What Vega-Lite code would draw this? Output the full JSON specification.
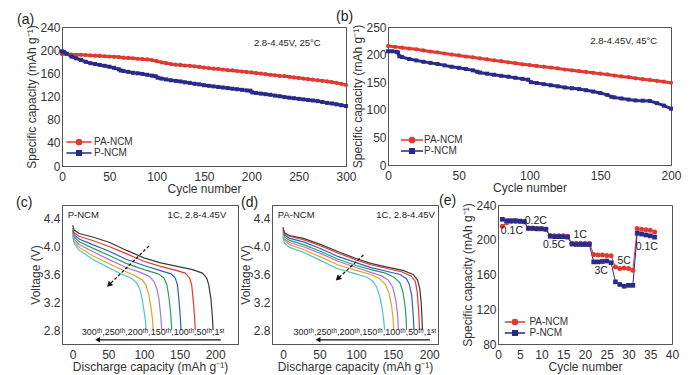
{
  "$schema": "https://vega.github.io/schema/vega-lite/v6.json",
  "padding": {"left": 15, "top": 9, "right": 0, "bottom": 5},
  "spacing": -2,
  "resolve": {"scale": {"fill": "independent", "stroke": "independent", "shape": "independent", "color": "independent"}},
  "config": {
    "font": "Liberation Sans",
    "view": {"stroke": "#555", "strokeWidth": 1},
    "axis": {"domainColor": "#555", "tickColor": "#555", "labelColor": "#333", "titleColor": "#333", "labelFontSize": 12, "titleFontSize": 12, "titleFontWeight": "normal", "grid": false, "tickSize": 0, "labelOverlap": false, "labelFlush": false, "titlePadding": 1, "labelFont": "Liberation Sans", "titleFont": "Liberation Sans"},
    "axisX": {"labelPadding": 5},
    "axisY": {"labelPadding": 2},
    "title": {"fontSize": 14, "fontWeight": "normal", "anchor": "start", "frame": "group", "offset": 0, "baseline": "bottom", "color": "#222", "font": "Liberation Sans"},
    "text": {"font": "Liberation Sans", "color": "#222"}
  },
  "vconcat": [
    {
      "resolve": {"scale": {"fill": "independent", "stroke": "independent", "shape": "independent", "color": "independent"}},
      "hconcat": [
        {
          "width": 284, "height": 139,
          "title": {"text": "(a)", "dx": -45, "dy": 10},
          "data": {"values": [
            {"n":0,"y":193,"s":"PA-NCM"},{"n":5,"y":193,"s":"PA-NCM"},{"n":10,"y":192.5,"s":"PA-NCM"},{"n":15,"y":192,"s":"PA-NCM"},{"n":20,"y":192,"s":"PA-NCM"},{"n":25,"y":191.5,"s":"PA-NCM"},{"n":30,"y":191,"s":"PA-NCM"},{"n":35,"y":190.5,"s":"PA-NCM"},{"n":40,"y":190,"s":"PA-NCM"},{"n":45,"y":189.5,"s":"PA-NCM"},{"n":50,"y":189,"s":"PA-NCM"},{"n":55,"y":188.5,"s":"PA-NCM"},{"n":60,"y":188,"s":"PA-NCM"},{"n":65,"y":187,"s":"PA-NCM"},{"n":70,"y":186.5,"s":"PA-NCM"},{"n":75,"y":186,"s":"PA-NCM"},{"n":80,"y":185,"s":"PA-NCM"},{"n":85,"y":184.5,"s":"PA-NCM"},{"n":90,"y":184,"s":"PA-NCM"},{"n":95,"y":183,"s":"PA-NCM"},{"n":100,"y":181,"s":"PA-NCM"},{"n":105,"y":179,"s":"PA-NCM"},{"n":110,"y":177.5,"s":"PA-NCM"},{"n":115,"y":176,"s":"PA-NCM"},{"n":120,"y":175,"s":"PA-NCM"},{"n":125,"y":174.5,"s":"PA-NCM"},{"n":130,"y":173.5,"s":"PA-NCM"},{"n":135,"y":173,"s":"PA-NCM"},{"n":140,"y":172,"s":"PA-NCM"},{"n":145,"y":171,"s":"PA-NCM"},{"n":150,"y":170,"s":"PA-NCM"},{"n":155,"y":169,"s":"PA-NCM"},{"n":160,"y":168,"s":"PA-NCM"},{"n":165,"y":167.5,"s":"PA-NCM"},{"n":170,"y":166.5,"s":"PA-NCM"},{"n":175,"y":165.5,"s":"PA-NCM"},{"n":180,"y":165,"s":"PA-NCM"},{"n":185,"y":164,"s":"PA-NCM"},{"n":190,"y":163,"s":"PA-NCM"},{"n":195,"y":162.5,"s":"PA-NCM"},{"n":200,"y":161.5,"s":"PA-NCM"},{"n":205,"y":160.5,"s":"PA-NCM"},{"n":210,"y":159.5,"s":"PA-NCM"},{"n":215,"y":158.5,"s":"PA-NCM"},{"n":220,"y":157.5,"s":"PA-NCM"},{"n":225,"y":156.5,"s":"PA-NCM"},{"n":230,"y":155.5,"s":"PA-NCM"},{"n":235,"y":155,"s":"PA-NCM"},{"n":240,"y":154,"s":"PA-NCM"},{"n":245,"y":153,"s":"PA-NCM"},{"n":250,"y":152,"s":"PA-NCM"},{"n":255,"y":151,"s":"PA-NCM"},{"n":260,"y":150,"s":"PA-NCM"},{"n":265,"y":149,"s":"PA-NCM"},{"n":270,"y":148,"s":"PA-NCM"},{"n":275,"y":147,"s":"PA-NCM"},{"n":280,"y":146,"s":"PA-NCM"},{"n":285,"y":145,"s":"PA-NCM"},{"n":290,"y":143.5,"s":"PA-NCM"},{"n":295,"y":142,"s":"PA-NCM"},{"n":300,"y":140,"s":"PA-NCM"},
            {"n":0,"y":198,"s":"P-NCM"},{"n":2,"y":197,"s":"P-NCM"},{"n":5,"y":194,"s":"P-NCM"},{"n":10,"y":189,"s":"P-NCM"},{"n":15,"y":186,"s":"P-NCM"},{"n":20,"y":183,"s":"P-NCM"},{"n":25,"y":180,"s":"P-NCM"},{"n":30,"y":177.5,"s":"P-NCM"},{"n":35,"y":176,"s":"P-NCM"},{"n":40,"y":174.5,"s":"P-NCM"},{"n":45,"y":173,"s":"P-NCM"},{"n":50,"y":171.5,"s":"P-NCM"},{"n":55,"y":169.5,"s":"P-NCM"},{"n":60,"y":167,"s":"P-NCM"},{"n":62,"y":165,"s":"P-NCM"},{"n":65,"y":164,"s":"P-NCM"},{"n":70,"y":162.5,"s":"P-NCM"},{"n":75,"y":161,"s":"P-NCM"},{"n":80,"y":160,"s":"P-NCM"},{"n":85,"y":159,"s":"P-NCM"},{"n":90,"y":157.5,"s":"P-NCM"},{"n":95,"y":156,"s":"P-NCM"},{"n":99,"y":155,"s":"P-NCM"},{"n":101,"y":152.5,"s":"P-NCM"},{"n":105,"y":151,"s":"P-NCM"},{"n":110,"y":149.5,"s":"P-NCM"},{"n":115,"y":148,"s":"P-NCM"},{"n":120,"y":147,"s":"P-NCM"},{"n":125,"y":146,"s":"P-NCM"},{"n":130,"y":144.5,"s":"P-NCM"},{"n":135,"y":143.5,"s":"P-NCM"},{"n":140,"y":142,"s":"P-NCM"},{"n":145,"y":141,"s":"P-NCM"},{"n":150,"y":139.5,"s":"P-NCM"},{"n":155,"y":138.5,"s":"P-NCM"},{"n":160,"y":137.5,"s":"P-NCM"},{"n":165,"y":136.5,"s":"P-NCM"},{"n":170,"y":135.5,"s":"P-NCM"},{"n":175,"y":134.5,"s":"P-NCM"},{"n":180,"y":133.5,"s":"P-NCM"},{"n":185,"y":132.5,"s":"P-NCM"},{"n":190,"y":131.5,"s":"P-NCM"},{"n":195,"y":130.5,"s":"P-NCM"},{"n":199,"y":130,"s":"P-NCM"},{"n":201,"y":127,"s":"P-NCM"},{"n":205,"y":126,"s":"P-NCM"},{"n":210,"y":125,"s":"P-NCM"},{"n":215,"y":124,"s":"P-NCM"},{"n":220,"y":123,"s":"P-NCM"},{"n":225,"y":121.5,"s":"P-NCM"},{"n":230,"y":120.5,"s":"P-NCM"},{"n":235,"y":119,"s":"P-NCM"},{"n":240,"y":118,"s":"P-NCM"},{"n":245,"y":117,"s":"P-NCM"},{"n":250,"y":116,"s":"P-NCM"},{"n":255,"y":115,"s":"P-NCM"},{"n":260,"y":114,"s":"P-NCM"},{"n":265,"y":113,"s":"P-NCM"},{"n":270,"y":112,"s":"P-NCM"},{"n":275,"y":110.5,"s":"P-NCM"},{"n":280,"y":109,"s":"P-NCM"},{"n":285,"y":108,"s":"P-NCM"},{"n":290,"y":106.5,"s":"P-NCM"},{"n":295,"y":105,"s":"P-NCM"},{"n":300,"y":103.5,"s":"P-NCM"}
          ]},
          "encoding": {
            "x": {"field": "n", "type": "quantitative", "scale": {"domain": [0, 300], "nice": false}, "axis": {"title": "Cycle number", "values": [0,25,50,75,100,125,150,175,200,225,250,275,300], "labelExpr": "datum.value % 50 === 0 ? datum.label : ''", "encode": {"ticks": {"update": {"y2": {"signal": "datum.value % 50 === 0 ? -4 : -2"}}}}}},
            "y": {"field": "y", "type": "quantitative", "scale": {"domain": [0, 240], "nice": false}, "axis": {"title": "Specific capacity (mAh g⁻¹)", "values": [0,20,40,60,80,100,120,140,160,180,200,220,240], "labelExpr": "datum.value % 40 === 0 ? datum.label : ''", "encode": {"ticks": {"update": {"x2": {"signal": "datum.value % 40 === 0 ? 4 : 2"}}}}}}
          },
          "layer": [
            {"mark": {"type": "line", "strokeWidth": 3}, "encoding": {"stroke": {"field": "s", "type": "nominal", "scale": {"domain": ["PA-NCM", "P-NCM"], "range": ["#e03a30", "#2a2a8a"]}}}},
            {"transform": [{"filter": "datum.s === 'PA-NCM'"}], "mark": {"type": "circle", "size": 18, "opacity": 1}, "encoding": {"fill": {"field": "s", "type": "nominal", "scale": {"domain": ["PA-NCM", "P-NCM"], "range": ["#e03a30", "#2a2a8a"]}}}},
            {"transform": [{"filter": "datum.s === 'P-NCM'"}], "mark": {"type": "square", "size": 16, "opacity": 1}, "encoding": {"fill": {"field": "s", "type": "nominal", "scale": {"domain": ["PA-NCM", "P-NCM"], "range": ["#e03a30", "#2a2a8a"]}}}},
            {"transform": [{"filter": "false"}], "mark": {"type": "point", "filled": true, "opacity": 1},
             "encoding": {
               "fill": {"field": "s", "type": "nominal", "scale": {"domain": ["PA-NCM", "P-NCM"], "range": ["#e03a30", "#2a2a8a"]}, "legend": {"orient": "none", "legendX": 12, "legendY": 110, "title": null, "symbolSize": 36, "symbolStrokeWidth": 1.3, "symbolFillColor": "#000", "symbolStrokeColor": "#000", "symbolOpacity": 1, "labelFontSize": 10, "labelColor": "#333", "labelOffset": 10, "rowPadding": 0, "padding": 0}},
               "stroke": {"field": "s", "type": "nominal", "scale": {"domain": ["PA-NCM", "P-NCM"], "range": ["#e03a30", "#2a2a8a"]}, "legend": {"orient": "none", "legendX": 12, "legendY": 110, "title": null, "symbolSize": 36, "symbolStrokeWidth": 1.3, "symbolFillColor": "#000", "symbolStrokeColor": "#000", "symbolOpacity": 1, "labelFontSize": 10, "labelColor": "#333", "labelOffset": 10, "rowPadding": 0, "padding": 0}},
               "shape": {"field": "s", "type": "nominal", "scale": {"domain": ["PA-NCM", "P-NCM"], "range": ["M-4.2,0L4.2,0M0.9,0A0.9,0.9,0,1,1,-0.9,0A0.9,0.9,0,1,1,0.9,0Z", "M-4.2,0L4.2,0M-0.8,-0.8L0.8,-0.8L0.8,0.8L-0.8,0.8Z"]}, "legend": {"orient": "none", "legendX": 12, "legendY": 110, "title": null, "symbolSize": 36, "symbolStrokeWidth": 1.3, "symbolFillColor": "#000", "symbolStrokeColor": "#000", "symbolOpacity": 1, "labelFontSize": 10, "labelColor": "#333", "labelOffset": 10, "rowPadding": 0, "padding": 0}}
             }},
            {"data": {"values": [{"n": 238, "y": 212, "t": "2.8-4.45V, 25°C"}]}, "mark": {"type": "text", "fontSize": 9.5, "align": "center", "baseline": "middle"}, "encoding": {"text": {"field": "t"}}}
          ]
        },
        {
          "width": 283, "height": 138,
          "title": {"text": "(b)", "dx": -52, "dy": 7},
          "data": {"values": [
            {"n":0,"y":215.5,"s":"PA-NCM"},{"n":5,"y":214,"s":"PA-NCM"},{"n":10,"y":212.5,"s":"PA-NCM"},{"n":15,"y":211,"s":"PA-NCM"},{"n":20,"y":209.5,"s":"PA-NCM"},{"n":25,"y":207.5,"s":"PA-NCM"},{"n":30,"y":205.5,"s":"PA-NCM"},{"n":35,"y":204,"s":"PA-NCM"},{"n":40,"y":202,"s":"PA-NCM"},{"n":45,"y":200,"s":"PA-NCM"},{"n":50,"y":198.5,"s":"PA-NCM"},{"n":55,"y":196.5,"s":"PA-NCM"},{"n":60,"y":195,"s":"PA-NCM"},{"n":65,"y":193,"s":"PA-NCM"},{"n":70,"y":191.5,"s":"PA-NCM"},{"n":75,"y":189.5,"s":"PA-NCM"},{"n":80,"y":188,"s":"PA-NCM"},{"n":85,"y":186,"s":"PA-NCM"},{"n":90,"y":184.5,"s":"PA-NCM"},{"n":95,"y":182.5,"s":"PA-NCM"},{"n":100,"y":181,"s":"PA-NCM"},{"n":105,"y":179.5,"s":"PA-NCM"},{"n":110,"y":178,"s":"PA-NCM"},{"n":115,"y":176.5,"s":"PA-NCM"},{"n":120,"y":175,"s":"PA-NCM"},{"n":125,"y":173,"s":"PA-NCM"},{"n":130,"y":171.5,"s":"PA-NCM"},{"n":135,"y":170,"s":"PA-NCM"},{"n":140,"y":168.5,"s":"PA-NCM"},{"n":145,"y":167,"s":"PA-NCM"},{"n":150,"y":165.5,"s":"PA-NCM"},{"n":155,"y":164,"s":"PA-NCM"},{"n":160,"y":162,"s":"PA-NCM"},{"n":165,"y":160.5,"s":"PA-NCM"},{"n":170,"y":159,"s":"PA-NCM"},{"n":175,"y":157,"s":"PA-NCM"},{"n":180,"y":155.5,"s":"PA-NCM"},{"n":185,"y":154,"s":"PA-NCM"},{"n":190,"y":152.5,"s":"PA-NCM"},{"n":195,"y":151,"s":"PA-NCM"},{"n":200,"y":149,"s":"PA-NCM"},
            {"n":0,"y":206,"s":"P-NCM"},{"n":3,"y":206,"s":"P-NCM"},{"n":6,"y":205,"s":"P-NCM"},{"n":7,"y":204,"s":"P-NCM"},{"n":8,"y":197,"s":"P-NCM"},{"n":10,"y":195.5,"s":"P-NCM"},{"n":15,"y":192,"s":"P-NCM"},{"n":20,"y":189.5,"s":"P-NCM"},{"n":25,"y":187,"s":"P-NCM"},{"n":30,"y":185,"s":"P-NCM"},{"n":35,"y":183,"s":"P-NCM"},{"n":40,"y":180.5,"s":"P-NCM"},{"n":45,"y":178,"s":"P-NCM"},{"n":50,"y":176,"s":"P-NCM"},{"n":55,"y":174,"s":"P-NCM"},{"n":60,"y":171.5,"s":"P-NCM"},{"n":63,"y":169,"s":"P-NCM"},{"n":65,"y":167.5,"s":"P-NCM"},{"n":70,"y":165.5,"s":"P-NCM"},{"n":75,"y":163.5,"s":"P-NCM"},{"n":80,"y":161.5,"s":"P-NCM"},{"n":85,"y":160,"s":"P-NCM"},{"n":90,"y":158,"s":"P-NCM"},{"n":95,"y":156,"s":"P-NCM"},{"n":99,"y":154.5,"s":"P-NCM"},{"n":101,"y":150,"s":"P-NCM"},{"n":105,"y":148.5,"s":"P-NCM"},{"n":110,"y":146.5,"s":"P-NCM"},{"n":115,"y":144.5,"s":"P-NCM"},{"n":120,"y":142.5,"s":"P-NCM"},{"n":125,"y":140.5,"s":"P-NCM"},{"n":130,"y":139,"s":"P-NCM"},{"n":135,"y":137.5,"s":"P-NCM"},{"n":140,"y":135.5,"s":"P-NCM"},{"n":145,"y":133,"s":"P-NCM"},{"n":150,"y":130.5,"s":"P-NCM"},{"n":155,"y":127,"s":"P-NCM"},{"n":158,"y":123.5,"s":"P-NCM"},{"n":160,"y":122.5,"s":"P-NCM"},{"n":165,"y":120.5,"s":"P-NCM"},{"n":170,"y":118.5,"s":"P-NCM"},{"n":175,"y":117,"s":"P-NCM"},{"n":180,"y":116.5,"s":"P-NCM"},{"n":185,"y":116,"s":"P-NCM"},{"n":190,"y":112,"s":"P-NCM"},{"n":195,"y":107.5,"s":"P-NCM"},{"n":200,"y":102,"s":"P-NCM"}
          ]},
          "encoding": {
            "x": {"field": "n", "type": "quantitative", "scale": {"domain": [0, 200], "nice": false}, "axis": {"title": "Cycle number", "values": [0,25,50,75,100,125,150,175,200], "labelExpr": "datum.value % 50 === 0 ? datum.label : ''", "encode": {"ticks": {"update": {"y2": {"signal": "datum.value % 50 === 0 ? -4 : -2"}}}}}},
            "y": {"field": "y", "type": "quantitative", "scale": {"domain": [0, 250], "nice": false}, "axis": {"title": "Specific capacity (mAh g⁻¹)", "values": [0,25,50,75,100,125,150,175,200,225,250], "labelExpr": "datum.value % 50 === 0 ? datum.label : ''", "encode": {"ticks": {"update": {"x2": {"signal": "datum.value % 50 === 0 ? 4 : 2"}}}}}}
          },
          "layer": [
            {"mark": {"type": "line", "strokeWidth": 3}, "encoding": {"stroke": {"field": "s", "type": "nominal", "scale": {"domain": ["PA-NCM", "P-NCM"], "range": ["#e03a30", "#2a2a8a"]}}}},
            {"transform": [{"filter": "datum.s === 'PA-NCM'"}], "mark": {"type": "circle", "size": 18, "opacity": 1}, "encoding": {"fill": {"field": "s", "type": "nominal", "scale": {"domain": ["PA-NCM", "P-NCM"], "range": ["#e03a30", "#2a2a8a"]}}}},
            {"transform": [{"filter": "datum.s === 'P-NCM'"}], "mark": {"type": "square", "size": 16, "opacity": 1}, "encoding": {"fill": {"field": "s", "type": "nominal", "scale": {"domain": ["PA-NCM", "P-NCM"], "range": ["#e03a30", "#2a2a8a"]}}}},
            {"transform": [{"filter": "false"}], "mark": {"type": "point", "filled": true, "opacity": 1},
             "encoding": {
               "fill": {"field": "s", "type": "nominal", "scale": {"domain": ["PA-NCM", "P-NCM"], "range": ["#e03a30", "#2a2a8a"]}, "legend": {"orient": "none", "legendX": 19, "legendY": 108, "title": null, "symbolSize": 36, "symbolStrokeWidth": 1.3, "symbolFillColor": "#000", "symbolStrokeColor": "#000", "symbolOpacity": 1, "labelFontSize": 10, "labelColor": "#333", "labelOffset": 7, "rowPadding": 0, "padding": 0}},
               "stroke": {"field": "s", "type": "nominal", "scale": {"domain": ["PA-NCM", "P-NCM"], "range": ["#e03a30", "#2a2a8a"]}, "legend": {"orient": "none", "legendX": 19, "legendY": 108, "title": null, "symbolSize": 36, "symbolStrokeWidth": 1.3, "symbolFillColor": "#000", "symbolStrokeColor": "#000", "symbolOpacity": 1, "labelFontSize": 10, "labelColor": "#333", "labelOffset": 7, "rowPadding": 0, "padding": 0}},
               "shape": {"field": "s", "type": "nominal", "scale": {"domain": ["PA-NCM", "P-NCM"], "range": ["M-3.7,0L3.7,0M0.9,0A0.9,0.9,0,1,1,-0.9,0A0.9,0.9,0,1,1,0.9,0Z", "M-3.7,0L3.7,0M-0.8,-0.8L0.8,-0.8L0.8,0.8L-0.8,0.8Z"]}, "legend": {"orient": "none", "legendX": 19, "legendY": 108, "title": null, "symbolSize": 36, "symbolStrokeWidth": 1.3, "symbolFillColor": "#000", "symbolStrokeColor": "#000", "symbolOpacity": 1, "labelFontSize": 10, "labelColor": "#333", "labelOffset": 7, "rowPadding": 0, "padding": 0}}
             }},
            {"data": {"values": [{"n": 166.6, "y": 224.7, "t": "2.8-4.45V, 45°C"}]}, "mark": {"type": "text", "fontSize": 9.5, "align": "center", "baseline": "middle"}, "encoding": {"text": {"field": "t"}}}
          ]
        }
      ],
      "spacing": 42, "bounds": "flush"
    },
    {
      "resolve": {"scale": {"fill": "independent", "stroke": "independent", "shape": "independent", "color": "independent"}},
      "hconcat": [
        {
          "width": 176, "height": 139,
          "title": {"text": "(c)", "dx": -46, "dy": 9},
          "encoding": {
            "x": {"field": "q", "type": "quantitative", "scale": {"domain": [-15, 232], "nice": false, "zero": false}, "axis": {"title": "Discharge capacity (mAh g⁻¹)", "values": [0,25,50,75,100,125,150,175,200,225], "labelExpr": "datum.value % 50 === 0 ? datum.label : ''", "encode": {"ticks": {"update": {"y2": {"signal": "datum.value % 50 === 0 ? -4 : -2"}}}}}},
            "y": {"field": "v", "type": "quantitative", "scale": {"domain": [2.6, 4.6], "nice": false, "zero": false}, "axis": {"title": "Voltage (V)", "values": [2.8,3.0,3.2,3.4,3.6,3.8,4.0,4.2,4.4], "labelExpr": "indexof(['2.8','3.2','3.6','4.0','4.4'], format(datum.value, '.1f')) >= 0 ? format(datum.value, '.1f') : ''", "encode": {"ticks": {"update": {"x2": {"signal": "indexof(['2.8','3.2','3.6','4.0','4.4'], format(datum.value, '.1f')) >= 0 ? 4 : 2"}}}}}}
          },
          "layer": [
            {"data": {"values": [
              {"c":"1st","q":0,"v":4.31},{"c":"1st","q":2,"v":4.24},{"c":"1st","q":9,"v":4.19},{"c":"1st","q":28,"v":4.14},{"c":"1st","q":52,"v":4.06},{"c":"1st","q":75,"v":3.95},{"c":"1st","q":100,"v":3.84},{"c":"1st","q":122,"v":3.77},{"c":"1st","q":145,"v":3.72},{"c":"1st","q":168,"v":3.67},{"c":"1st","q":182,"v":3.62},{"c":"1st","q":188,"v":3.55},{"c":"1st","q":191,"v":3.45},{"c":"1st","q":194,"v":3.25},{"c":"1st","q":196,"v":3.0},{"c":"1st","q":197,"v":2.8},
              {"c":"50th","q":0,"v":4.27},{"c":"50th","q":2,"v":4.2},{"c":"50th","q":9,"v":4.15},{"c":"50th","q":28,"v":4.09},{"c":"50th","q":52,"v":4.0},{"c":"50th","q":75,"v":3.9},{"c":"50th","q":100,"v":3.79},{"c":"50th","q":122,"v":3.72},{"c":"50th","q":145,"v":3.66},{"c":"50th","q":158,"v":3.62},{"c":"50th","q":164,"v":3.55},{"c":"50th","q":167,"v":3.45},{"c":"50th","q":169,"v":3.25},{"c":"50th","q":171,"v":3.0},{"c":"50th","q":172,"v":2.8},
              {"c":"100th","q":0,"v":4.24},{"c":"100th","q":2,"v":4.17},{"c":"100th","q":9,"v":4.11},{"c":"100th","q":28,"v":4.03},{"c":"100th","q":52,"v":3.93},{"c":"100th","q":75,"v":3.82},{"c":"100th","q":100,"v":3.73},{"c":"100th","q":122,"v":3.66},{"c":"100th","q":138,"v":3.61},{"c":"100th","q":144,"v":3.55},{"c":"100th","q":147,"v":3.45},{"c":"100th","q":149,"v":3.25},{"c":"100th","q":151,"v":3.0},{"c":"100th","q":152,"v":2.8},
              {"c":"150th","q":0,"v":4.22},{"c":"150th","q":2,"v":4.14},{"c":"150th","q":9,"v":4.07},{"c":"150th","q":28,"v":3.98},{"c":"150th","q":52,"v":3.87},{"c":"150th","q":75,"v":3.76},{"c":"150th","q":100,"v":3.67},{"c":"150th","q":120,"v":3.61},{"c":"150th","q":128,"v":3.55},{"c":"150th","q":132,"v":3.46},{"c":"150th","q":135,"v":3.28},{"c":"150th","q":137.5,"v":3.05},{"c":"150th","q":139,"v":2.8},
              {"c":"200th","q":0,"v":4.2},{"c":"200th","q":2,"v":4.11},{"c":"200th","q":9,"v":4.03},{"c":"200th","q":28,"v":3.93},{"c":"200th","q":52,"v":3.81},{"c":"200th","q":75,"v":3.7},{"c":"200th","q":95,"v":3.63},{"c":"200th","q":108,"v":3.57},{"c":"200th","q":114,"v":3.5},{"c":"200th","q":118,"v":3.4},{"c":"200th","q":121,"v":3.25},{"c":"200th","q":123.5,"v":3.02},{"c":"200th","q":125,"v":2.8},
              {"c":"250th","q":0,"v":4.17},{"c":"250th","q":2,"v":4.08},{"c":"250th","q":9,"v":3.99},{"c":"250th","q":28,"v":3.87},{"c":"250th","q":52,"v":3.75},{"c":"250th","q":75,"v":3.64},{"c":"250th","q":88,"v":3.58},{"c":"250th","q":98,"v":3.52},{"c":"250th","q":103,"v":3.44},{"c":"250th","q":107,"v":3.3},{"c":"250th","q":110,"v":3.12},{"c":"250th","q":112,"v":2.95},{"c":"250th","q":113,"v":2.8},
              {"c":"300th","q":0,"v":4.15},{"c":"300th","q":2,"v":4.05},{"c":"300th","q":9,"v":3.95},{"c":"300th","q":28,"v":3.82},{"c":"300th","q":52,"v":3.69},{"c":"300th","q":70,"v":3.6},{"c":"300th","q":82,"v":3.55},{"c":"300th","q":89,"v":3.49},{"c":"300th","q":94,"v":3.4},{"c":"300th","q":97.5,"v":3.25},{"c":"300th","q":100.5,"v":3.05},{"c":"300th","q":102.5,"v":2.9},{"c":"300th","q":103,"v":2.8}
            ]},
             "mark": {"type": "line", "strokeWidth": 1.2},
             "encoding": {"color": {"field": "c", "type": "nominal", "scale": {"domain": ["1st","50th","100th","150th","200th","250th","300th"], "range": ["#3a3a3a","#e8382d","#2f5fc8","#2e9e5b","#a678d4","#e5a12a","#4ec3c8"]}, "legend": null}}},
            {"data": {"values": [{"q": 107, "v": 4.01, "q2": 53, "v2": 3.47}]}, "mark": {"type": "rule", "strokeDash": [3, 2], "color": "#111", "strokeWidth": 1.2}, "encoding": {"x2": {"field": "q2"}, "y2": {"field": "v2"}}},
            {"data": {"values": [{"q": 51, "v": 3.45}]}, "mark": {"type": "point", "shape": "triangle-up", "angle": 225, "filled": true, "size": 40, "color": "#111", "opacity": 1}},
            {"data": {"values": [{"q": 35, "v": 2.66, "q2": 208}]}, "mark": {"type": "rule", "color": "#111", "strokeWidth": 1.3}, "encoding": {"x2": {"field": "q2"}}},
            {"data": {"values": [{"q": 35, "v": 2.66}]}, "mark": {"type": "point", "shape": "triangle-left", "filled": true, "size": 30, "color": "#111", "opacity": 1}},
            {"data": {"values": [{"q": 113, "v": 2.77, "t": "300ᵗʰ,250ᵗʰ,200ᵗʰ,150ᵗʰ,100ᵗʰ,50ᵗʰ,1ˢᵗ"}]}, "mark": {"type": "text", "fontSize": 9, "align": "center", "baseline": "middle"}, "encoding": {"text": {"field": "t"}}},
            {"data": {"values": [{"q": -7, "v": 4.45, "t": "P-NCM"}]}, "mark": {"type": "text", "fontSize": 9.5, "align": "left", "baseline": "middle"}, "encoding": {"text": {"field": "t"}}},
            {"data": {"values": [{"q": 215.5, "v": 4.45, "t": "1C, 2.8-4.45V"}]}, "mark": {"type": "text", "fontSize": 9.5, "align": "right", "baseline": "middle"}, "encoding": {"text": {"field": "t"}}}
          ]
        },
        {
          "resolve": {"scale": {"fill": "independent", "stroke": "independent", "shape": "independent", "color": "independent"}},
          "hconcat": [
            {
              "width": 166, "height": 139,
              "title": {"text": "(d)", "dx": -31, "dy": 9},
              "encoding": {
                "x": {"field": "q", "type": "quantitative", "scale": {"domain": [-15, 212], "nice": false, "zero": false}, "axis": {"title": "Discharge capacity (mAh g⁻¹)", "values": [0,25,50,75,100,125,150,175,200], "labelExpr": "datum.value % 50 === 0 ? datum.label : ''", "encode": {"ticks": {"update": {"y2": {"signal": "datum.value % 50 === 0 ? -4 : -2"}}}}}},
                "y": {"field": "v", "type": "quantitative", "scale": {"domain": [2.6, 4.6], "nice": false, "zero": false}, "axis": {"title": "Voltage (V)", "values": [2.8,3.0,3.2,3.4,3.6,3.8,4.0,4.2,4.4], "labelExpr": "indexof(['2.8','3.2','3.6','4.0','4.4'], format(datum.value, '.1f')) >= 0 ? format(datum.value, '.1f') : ''", "encode": {"ticks": {"update": {"x2": {"signal": "indexof(['2.8','3.2','3.6','4.0','4.4'], format(datum.value, '.1f')) >= 0 ? 4 : 2"}}}}}}
              },
              "layer": [
                {"data": {"values": [
                  {"c":"1st","q":0,"v":4.28},{"c":"1st","q":2,"v":4.2},{"c":"1st","q":9,"v":4.16},{"c":"1st","q":28,"v":4.12},{"c":"1st","q":52,"v":4.03},{"c":"1st","q":75,"v":3.93},{"c":"1st","q":100,"v":3.83},{"c":"1st","q":120,"v":3.76},{"c":"1st","q":141,"v":3.71},{"c":"1st","q":164,"v":3.66},{"c":"1st","q":178,"v":3.6},{"c":"1st","q":184,"v":3.52},{"c":"1st","q":187,"v":3.4},{"c":"1st","q":189,"v":3.2},{"c":"1st","q":190,"v":3.0},{"c":"1st","q":190.8,"v":2.8},
                  {"c":"50th","q":0,"v":4.26},{"c":"50th","q":2,"v":4.19},{"c":"50th","q":9,"v":4.15},{"c":"50th","q":28,"v":4.1},{"c":"50th","q":52,"v":4.01},{"c":"50th","q":75,"v":3.91},{"c":"50th","q":100,"v":3.81},{"c":"50th","q":120,"v":3.74},{"c":"50th","q":141,"v":3.69},{"c":"50th","q":162,"v":3.64},{"c":"50th","q":175,"v":3.58},{"c":"50th","q":181,"v":3.5},{"c":"50th","q":183.5,"v":3.35},{"c":"50th","q":185,"v":3.15},{"c":"50th","q":186,"v":2.98},{"c":"50th","q":186.7,"v":2.8},
                  {"c":"100th","q":0,"v":4.24},{"c":"100th","q":2,"v":4.17},{"c":"100th","q":9,"v":4.12},{"c":"100th","q":28,"v":4.07},{"c":"100th","q":52,"v":3.97},{"c":"100th","q":75,"v":3.86},{"c":"100th","q":100,"v":3.77},{"c":"100th","q":120,"v":3.7},{"c":"100th","q":140,"v":3.65},{"c":"100th","q":160,"v":3.6},{"c":"100th","q":169,"v":3.54},{"c":"100th","q":173,"v":3.45},{"c":"100th","q":176,"v":3.3},{"c":"100th","q":177.5,"v":3.1},{"c":"100th","q":178.5,"v":2.95},{"c":"100th","q":179,"v":2.8},
                  {"c":"150th","q":0,"v":4.21},{"c":"150th","q":2,"v":4.14},{"c":"150th","q":9,"v":4.09},{"c":"150th","q":28,"v":4.03},{"c":"150th","q":52,"v":3.93},{"c":"150th","q":75,"v":3.82},{"c":"150th","q":100,"v":3.73},{"c":"150th","q":120,"v":3.67},{"c":"150th","q":140,"v":3.62},{"c":"150th","q":152,"v":3.56},{"c":"150th","q":160,"v":3.48},{"c":"150th","q":164,"v":3.35},{"c":"150th","q":167,"v":3.15},{"c":"150th","q":168.3,"v":2.98},{"c":"150th","q":169,"v":2.8},
                  {"c":"200th","q":0,"v":4.19},{"c":"200th","q":2,"v":4.11},{"c":"200th","q":9,"v":4.06},{"c":"200th","q":28,"v":4.0},{"c":"200th","q":52,"v":3.9},{"c":"200th","q":75,"v":3.79},{"c":"200th","q":100,"v":3.7},{"c":"200th","q":120,"v":3.63},{"c":"200th","q":135,"v":3.58},{"c":"200th","q":144,"v":3.52},{"c":"200th","q":150,"v":3.42},{"c":"200th","q":154,"v":3.25},{"c":"200th","q":156.5,"v":3.05},{"c":"200th","q":158,"v":2.8},
                  {"c":"250th","q":0,"v":4.17},{"c":"250th","q":2,"v":4.09},{"c":"250th","q":9,"v":4.03},{"c":"250th","q":28,"v":3.96},{"c":"250th","q":52,"v":3.85},{"c":"250th","q":75,"v":3.74},{"c":"250th","q":100,"v":3.66},{"c":"250th","q":120,"v":3.6},{"c":"250th","q":132,"v":3.54},{"c":"250th","q":140,"v":3.46},{"c":"250th","q":145,"v":3.33},{"c":"250th","q":148.5,"v":3.15},{"c":"250th","q":150.5,"v":2.97},{"c":"250th","q":151.6,"v":2.8},
                  {"c":"300th","q":0,"v":4.14},{"c":"300th","q":2,"v":4.05},{"c":"300th","q":9,"v":3.99},{"c":"300th","q":28,"v":3.92},{"c":"300th","q":52,"v":3.8},{"c":"300th","q":73,"v":3.69},{"c":"300th","q":96,"v":3.62},{"c":"300th","q":115,"v":3.56},{"c":"300th","q":123,"v":3.5},{"c":"300th","q":128,"v":3.42},{"c":"300th","q":132,"v":3.3},{"c":"300th","q":135,"v":3.15},{"c":"300th","q":137.5,"v":2.97},{"c":"300th","q":139,"v":2.8}
                ]},
                 "mark": {"type": "line", "strokeWidth": 1.2},
                 "encoding": {"color": {"field": "c", "type": "nominal", "scale": {"domain": ["1st","50th","100th","150th","200th","250th","300th"], "range": ["#3a3a3a","#e8382d","#2f5fc8","#2e9e5b","#a678d4","#e5a12a","#4ec3c8"]}, "legend": null}}},
                {"data": {"values": [{"q": 110, "v": 3.88, "q2": 77, "v2": 3.56}]}, "mark": {"type": "rule", "strokeDash": [3, 2], "color": "#111", "strokeWidth": 1.2}, "encoding": {"x2": {"field": "q2"}, "y2": {"field": "v2"}}},
                {"data": {"values": [{"q": 75, "v": 3.54}]}, "mark": {"type": "point", "shape": "triangle-up", "angle": 227, "filled": true, "size": 40, "color": "#111", "opacity": 1}},
                {"data": {"values": [{"q": 48, "v": 2.66, "q2": 201}]}, "mark": {"type": "rule", "color": "#111", "strokeWidth": 1.3}, "encoding": {"x2": {"field": "q2"}}},
                {"data": {"values": [{"q": 48, "v": 2.66}]}, "mark": {"type": "point", "shape": "triangle-left", "filled": true, "size": 30, "color": "#111", "opacity": 1}},
                {"data": {"values": [{"q": 112, "v": 2.77, "t": "300ᵗʰ,250ᵗʰ,200ᵗʰ,150ᵗʰ,100ᵗʰ,50ᵗʰ,1ˢᵗ"}]}, "mark": {"type": "text", "fontSize": 9, "align": "center", "baseline": "middle"}, "encoding": {"text": {"field": "t"}}},
                {"data": {"values": [{"q": -7, "v": 4.45, "t": "PA-NCM"}]}, "mark": {"type": "text", "fontSize": 9.5, "align": "left", "baseline": "middle"}, "encoding": {"text": {"field": "t"}}},
                {"data": {"values": [{"q": 207.8, "v": 4.45, "t": "1C, 2.8-4.45V"}]}, "mark": {"type": "text", "fontSize": 9.5, "align": "right", "baseline": "middle"}, "encoding": {"text": {"field": "t"}}}
              ]
            },
            {
              "width": 174, "height": 139,
              "title": {"text": "(e)", "dx": -59, "dy": 13},
              "data": {"values": [
                {"n":1,"y":215.5,"s":"PA-NCM"},{"n":2,"y":219.5,"s":"PA-NCM"},{"n":3,"y":221,"s":"PA-NCM"},{"n":4,"y":221,"s":"PA-NCM"},{"n":5,"y":221,"s":"PA-NCM"},{"n":6,"y":220.5,"s":"PA-NCM"},{"n":7,"y":213.5,"s":"PA-NCM"},{"n":8,"y":213.5,"s":"PA-NCM"},{"n":9,"y":213,"s":"PA-NCM"},{"n":10,"y":213,"s":"PA-NCM"},{"n":11,"y":212.5,"s":"PA-NCM"},{"n":12,"y":205,"s":"PA-NCM"},{"n":13,"y":204.5,"s":"PA-NCM"},{"n":14,"y":204.5,"s":"PA-NCM"},{"n":15,"y":204.5,"s":"PA-NCM"},{"n":16,"y":204,"s":"PA-NCM"},{"n":17,"y":196,"s":"PA-NCM"},{"n":18,"y":196,"s":"PA-NCM"},{"n":19,"y":196,"s":"PA-NCM"},{"n":20,"y":196,"s":"PA-NCM"},{"n":21,"y":196,"s":"PA-NCM"},{"n":22,"y":183,"s":"PA-NCM"},{"n":23,"y":182.5,"s":"PA-NCM"},{"n":24,"y":182.5,"s":"PA-NCM"},{"n":25,"y":182,"s":"PA-NCM"},{"n":26,"y":181.5,"s":"PA-NCM"},{"n":27,"y":168.5,"s":"PA-NCM"},{"n":28,"y":167,"s":"PA-NCM"},{"n":29,"y":167.5,"s":"PA-NCM"},{"n":30,"y":167,"s":"PA-NCM"},{"n":31,"y":165,"s":"PA-NCM"},{"n":32,"y":213,"s":"PA-NCM"},{"n":33,"y":212,"s":"PA-NCM"},{"n":34,"y":211.5,"s":"PA-NCM"},{"n":35,"y":211,"s":"PA-NCM"},{"n":36,"y":209,"s":"PA-NCM"},
                {"n":1,"y":223.5,"s":"P-NCM"},{"n":2,"y":222,"s":"P-NCM"},{"n":3,"y":222,"s":"P-NCM"},{"n":4,"y":222,"s":"P-NCM"},{"n":5,"y":221.5,"s":"P-NCM"},{"n":6,"y":221,"s":"P-NCM"},{"n":7,"y":213,"s":"P-NCM"},{"n":8,"y":213,"s":"P-NCM"},{"n":9,"y":212.5,"s":"P-NCM"},{"n":10,"y":212.5,"s":"P-NCM"},{"n":11,"y":212,"s":"P-NCM"},{"n":12,"y":204,"s":"P-NCM"},{"n":13,"y":203.5,"s":"P-NCM"},{"n":14,"y":203.5,"s":"P-NCM"},{"n":15,"y":203.5,"s":"P-NCM"},{"n":16,"y":203,"s":"P-NCM"},{"n":17,"y":195,"s":"P-NCM"},{"n":18,"y":194.5,"s":"P-NCM"},{"n":19,"y":194.5,"s":"P-NCM"},{"n":20,"y":194.5,"s":"P-NCM"},{"n":21,"y":194.5,"s":"P-NCM"},{"n":22,"y":174.5,"s":"P-NCM"},{"n":23,"y":174.5,"s":"P-NCM"},{"n":24,"y":175,"s":"P-NCM"},{"n":25,"y":175.5,"s":"P-NCM"},{"n":26,"y":173.5,"s":"P-NCM"},{"n":27,"y":151.5,"s":"P-NCM"},{"n":28,"y":148.5,"s":"P-NCM"},{"n":29,"y":146.5,"s":"P-NCM"},{"n":30,"y":147.5,"s":"P-NCM"},{"n":31,"y":147.5,"s":"P-NCM"},{"n":32,"y":207.5,"s":"P-NCM"},{"n":33,"y":206.5,"s":"P-NCM"},{"n":34,"y":205.5,"s":"P-NCM"},{"n":35,"y":204.5,"s":"P-NCM"},{"n":36,"y":203,"s":"P-NCM"}
              ]},
              "encoding": {
                "x": {"field": "n", "type": "quantitative", "scale": {"domain": [0, 40], "nice": false}, "axis": {"title": "Cycle number", "values": [0,2.5,5,7.5,10,12.5,15,17.5,20,22.5,25,27.5,30,32.5,35,37.5,40], "labelExpr": "datum.value % 5 === 0 ? datum.label : ''", "encode": {"ticks": {"update": {"y2": {"signal": "datum.value % 5 === 0 ? -4 : -2"}}}}}},
                "y": {"field": "y", "type": "quantitative", "scale": {"domain": [80, 240], "nice": false}, "axis": {"title": "Specific capacity (mAh g⁻¹)", "values": [80,100,120,140,160,180,200,220,240], "labelExpr": "datum.value % 40 === 0 ? datum.label : ''", "encode": {"ticks": {"update": {"x2": {"signal": "datum.value % 40 === 0 ? 4 : 2"}}}}}}
              },
              "layer": [
                {"mark": {"type": "line", "strokeWidth": 1}, "encoding": {"stroke": {"field": "s", "type": "nominal", "scale": {"domain": ["PA-NCM", "P-NCM"], "range": ["#e03a30", "#2a2a8a"]}}}},
                {"transform": [{"filter": "datum.s === 'PA-NCM'"}], "mark": {"type": "circle", "size": 25, "opacity": 1}, "encoding": {"fill": {"field": "s", "type": "nominal", "scale": {"domain": ["PA-NCM", "P-NCM"], "range": ["#e03a30", "#2a2a8a"]}}}},
                {"transform": [{"filter": "datum.s === 'P-NCM'"}], "mark": {"type": "square", "size": 22, "opacity": 1}, "encoding": {"fill": {"field": "s", "type": "nominal", "scale": {"domain": ["PA-NCM", "P-NCM"], "range": ["#e03a30", "#2a2a8a"]}}}},
                {"transform": [{"filter": "false"}], "mark": {"type": "point", "filled": true, "opacity": 1},
                 "encoding": {
                   "fill": {"field": "s", "type": "nominal", "scale": {"domain": ["PA-NCM", "P-NCM"], "range": ["#e03a30", "#2a2a8a"]}, "legend": {"orient": "none", "legendX": 12, "legendY": 112, "title": null, "symbolSize": 36, "symbolStrokeWidth": 1.3, "symbolFillColor": "#000", "symbolStrokeColor": "#000", "symbolOpacity": 1, "labelFontSize": 10, "labelColor": "#333", "labelOffset": 9.4, "rowPadding": 0, "padding": 0}},
                   "stroke": {"field": "s", "type": "nominal", "scale": {"domain": ["PA-NCM", "P-NCM"], "range": ["#e03a30", "#2a2a8a"]}, "legend": {"orient": "none", "legendX": 12, "legendY": 112, "title": null, "symbolSize": 36, "symbolStrokeWidth": 1.3, "symbolFillColor": "#000", "symbolStrokeColor": "#000", "symbolOpacity": 1, "labelFontSize": 10, "labelColor": "#333", "labelOffset": 9.4, "rowPadding": 0, "padding": 0}},
                   "shape": {"field": "s", "type": "nominal", "scale": {"domain": ["PA-NCM", "P-NCM"], "range": ["M-3.4,0L3.4,0M0.9,0A0.9,0.9,0,1,1,-0.9,0A0.9,0.9,0,1,1,0.9,0Z", "M-3.4,0L3.4,0M-0.8,-0.8L0.8,-0.8L0.8,0.8L-0.8,0.8Z"]}, "legend": {"orient": "none", "legendX": 12, "legendY": 112, "title": null, "symbolSize": 36, "symbolStrokeWidth": 1.3, "symbolFillColor": "#000", "symbolStrokeColor": "#000", "symbolOpacity": 1, "labelFontSize": 10, "labelColor": "#333", "labelOffset": 9.4, "rowPadding": 0, "padding": 0}}
                 }},
                {"data": {"values": [
                  {"n": 3.2, "y": 210, "t": "0.1C"},{"n": 8.7, "y": 221.5, "t": "0.2C"},{"n": 12.9, "y": 194.5, "t": "0.5C"},{"n": 18.9, "y": 205, "t": "1C"},{"n": 23.7, "y": 164, "t": "3C"},{"n": 29, "y": 176, "t": "5C"},{"n": 34.2, "y": 192, "t": "0.1C"}
                ]}, "mark": {"type": "text", "fontSize": 10.5, "align": "center", "baseline": "middle"}, "encoding": {"text": {"field": "t"}}}
              ]
            }
          ],
          "spacing": 60, "bounds": "flush"
        }
      ],
      "spacing": 34, "bounds": "flush"
    }
  ]
}
